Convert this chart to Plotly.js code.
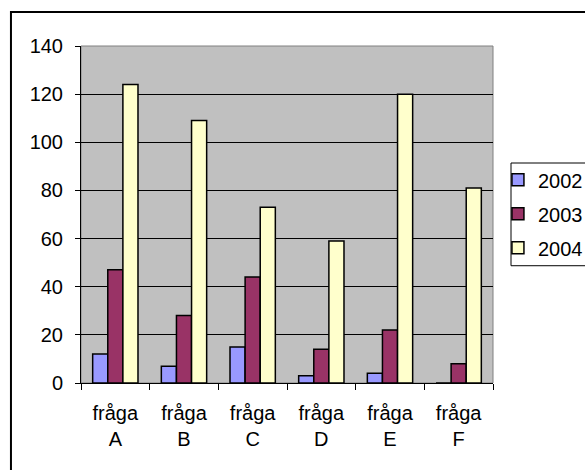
<!DOCTYPE html>
<html>
<head>
<meta charset="utf-8">
<script src="https://cdn.plot.ly/plotly-3.0.1.min.js"></script>
<style>html,body{margin:0;padding:0;overflow:hidden;background:#fff}</style>
</head>
<body>
<div id="chart" style="width:585px;height:470px"></div>
<script>
const categories = ["fråga<br>A", "fråga<br>B", "fråga<br>C", "fråga<br>D", "fråga<br>E", "fråga<br>F"];
const seriesNames = ["2002", "2003", "2004"];
const values2002 = [12, 7, 15, 3, 4, 0];
const values2003 = [47, 28, 44, 14, 22, 8];
const values2004 = [124, 109, 73, 59, 120, 81];
const colors = ["#9999FF", "#993366", "#FFFFCC"];
const yTicks = [0, 20, 40, 60, 80, 100, 120, 140];

const allValues = [values2002, values2003, values2004];
const traces = allValues.map((v, i) => ({
  type: "bar",
  name: seriesNames[i],
  x: categories,
  y: v,
  legendgroup: "g" + i,
  marker: {color: colors[i], line: {color: "#000000", width: 1.5}}
}));

const font = {family: "Liberation Sans, Arial, sans-serif", size: 20, color: "#000000"};

const layout = {
  width: 585,
  height: 470,
  margin: {l: 81, r: 92, t: 46, b: 87, autoexpand: false},
  paper_bgcolor: "#ffffff",
  plot_bgcolor: "#C0C0C0",
  font: font,
  barmode: "group",
  bargap: 0.34,
  bargroupgap: 0,
  showlegend: true,
  legend: {
    x: 1.012, xanchor: "left",
    y: 0.661, yanchor: "top",
    bgcolor: "rgba(0,0,0,0)",
    borderwidth: 0,
    font: font,
    traceorder: "grouped",
    tracegroupgap: 5,
    itemwidth: 30
  },
  xaxis: {
    type: "category",
    showgrid: false,
    showline: true,
    linecolor: "#000000",
    linewidth: 1,
    ticks: "outside",
    tickson: "boundaries",
    ticklen: 6,
    tickcolor: "#000000",
    ticklabelstandoff: 12,
    tickfont: font,
    zeroline: false,
    fixedrange: true
  },
  yaxis: {
    range: [0, 140],
    tickvals: yTicks,
    ticktext: yTicks.map(String),
    showgrid: true,
    gridcolor: "#000000",
    gridwidth: 1,
    showline: true,
    linecolor: "#000000",
    linewidth: 1,
    ticks: "outside",
    ticklen: 5,
    tickcolor: "#000000",
    ticklabelstandoff: 8,
    tickfont: font,
    zeroline: false,
    fixedrange: true
  },
  shapes: [
    {type: "rect", xref: "x domain", yref: "y domain", x0: 0, x1: 1, y0: 0, y1: 1,
     line: {color: "#808080", width: 1}, layer: "below"},
    {type: "rect", xref: "paper", yref: "paper", x0: -0.17, x1: 1.6, y0: -0.5, y1: 1.1009,
     line: {color: "#000000", width: 2}, fillcolor: "rgba(0,0,0,0)"},
    {type: "rect", xref: "paper", yref: "paper", x0: 1.0437, x1: 1.3, y0: 0.348, y1: 0.6528,
     line: {color: "#000000", width: 1}, fillcolor: "#ffffff"}
  ]
};

Plotly.newPlot("chart", traces, layout, {displayModeBar: false, staticPlot: true});
</script>
</body>
</html>
